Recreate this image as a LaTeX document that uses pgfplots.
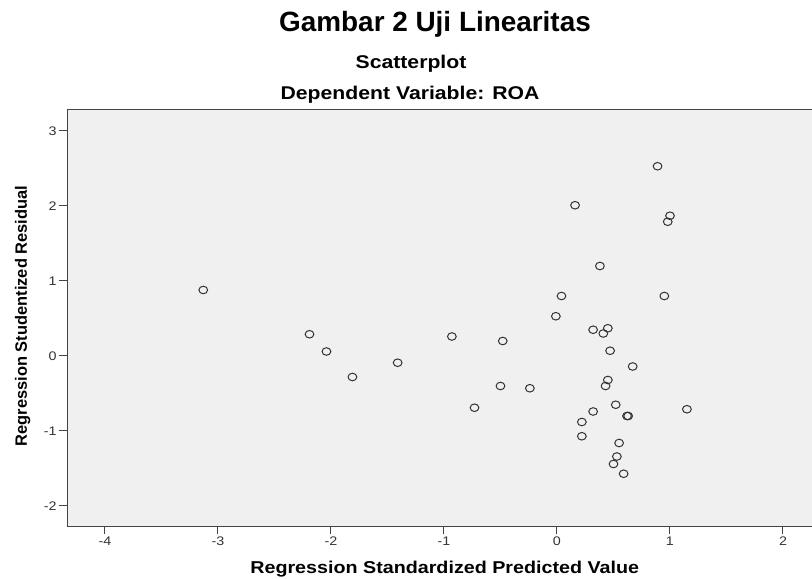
\documentclass[border=0pt]{standalone}
\usepackage{fontspec}
\setmainfont{Liberation Sans}
\newfontfamily\chartfont{Liberation Sans}[FakeStretch=1.15]
\usepackage{pgfplots}
\pgfplotsset{compat=1.18}
\definecolor{plotbg}{HTML}{F0F0F0}
\definecolor{axisgray}{HTML}{444444}
\definecolor{markgray}{HTML}{333333}

\begin{document}
\begin{tikzpicture}[x=1bp,y=1bp]
\useasboundingbox (0,0) rectangle (812,579);
\begin{axis}[
  at={(67bp,52bp)}, anchor=south west,
  width=745bp, height=417bp, scale only axis,
  xmin=-4.336, xmax=2.257, ymin=-2.28, ymax=3.28,
  axis x line=bottom, axis y line=left,
  axis line style={-, draw=axisgray, line width=1bp},
  axis background/.style={fill=plotbg},
  xtick={-4,-3,-2,-1,0,1,2}, ytick={-2,-1,0,1,2,3},
  tick align=outside,
  tick style={draw=axisgray, line width=1bp},
  xtick style={/pgfplots/major tick length=7bp},
  ytick style={/pgfplots/major tick length=8bp},
  /pgf/number format/assume math mode=true,
  ticklabel style={font=\chartfont\fontsize{12.5}{14}\selectfont, text=black!80},
  xticklabel style={anchor=north, yshift=-4bp, inner sep=1.5bp},
  yticklabel style={anchor=east, xshift=-5bp, inner sep=1bp},
  xlabel={Regression Standardized Predicted Value},
  ylabel={Regression Studentized Residual},
  xlabel style={at={(axis description cs:0.507,-0.1127)}, anchor=base, font=\chartfont\bfseries\fontsize{17.2}{20}\selectfont},
  ylabel style={at={(axis description cs:-0.0537,0.506)}, anchor=base, font=\bfseries\fontsize{16.5}{19}\selectfont},
]
\addplot[only marks, mark=o, mark size=3.8bp, mark options={draw=markgray, line width=1bp, xscale=1.15}] table {
x y
-3.13 0.88
-2.19 0.29
-2.04 0.06
-1.81 -0.28
-1.41 -0.09
-0.93 0.26
0.89 2.53
0.16 2.01
1.00 1.87
0.98 1.79
0.38 1.20
0.04 0.80
0.95 0.80
-0.01 0.53
-0.48 0.20
0.32 0.35
0.45 0.37
0.41 0.30
0.47 0.07
0.67 -0.14
0.45 -0.32
0.43 -0.40
-0.50 -0.40
-0.24 -0.43
-0.73 -0.69
0.52 -0.65
0.32 -0.74
0.62 -0.80
0.63 -0.80
1.15 -0.71
0.22 -0.88
0.22 -1.07
0.55 -1.16
0.53 -1.34
0.50 -1.44
0.59 -1.57
};
\draw[axisgray, line width=1bp] (rel axis cs:0,1) -- (rel axis cs:1,1);
\end{axis}
\node[font=\bfseries\fontsize{28}{32}\selectfont, anchor=base] at (435,547) {Gambar 2 Uji Linearitas};
\node[font=\chartfont\bfseries\fontsize{18.5}{22}\selectfont, anchor=base] at (411,510) {Scatterplot};
\node[font=\chartfont\bfseries\fontsize{18.5}{22}\selectfont, anchor=base] at (410,479) {Dependent Variable: ROA};
\end{tikzpicture}
\end{document}
